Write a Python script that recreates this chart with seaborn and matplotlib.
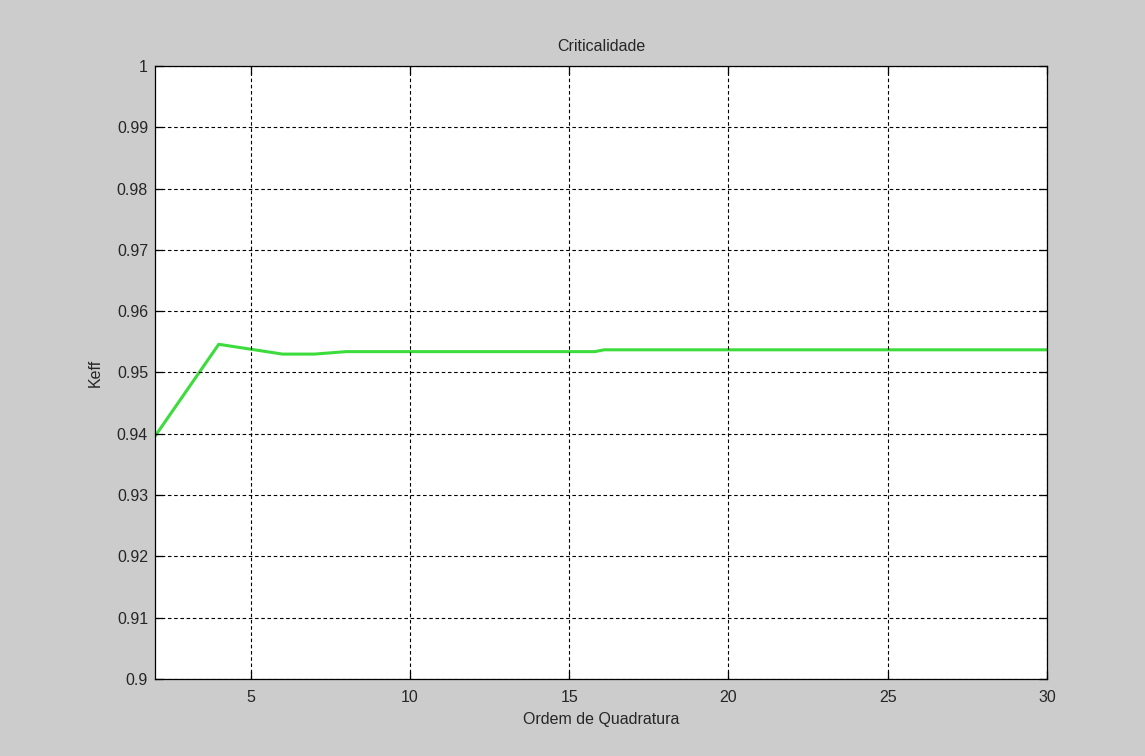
import matplotlib
matplotlib.use("Agg")
import matplotlib.pyplot as plt
import seaborn as sns
import pandas as pd

# Data
ordem = [2, 4, 6, 7, 8, 15.8, 16.1, 30]
keff = [0.9396, 0.9546, 0.9530, 0.9530, 0.9534, 0.9534, 0.9537, 0.9537]
xticks = [5, 10, 15, 20, 25, 30]
yticks = [0.90, 0.91, 0.92, 0.93, 0.94, 0.95, 0.96, 0.97, 0.98, 0.99, 1.00]
ytick_labels = ["0.9", "0.91", "0.92", "0.93", "0.94", "0.95", "0.96", "0.97", "0.98", "0.99", "1"]

sns.set_style("ticks")
plt.rcParams['font.family'] = ['Liberation Sans', 'DejaVu Sans']

txt = "#262626"
fig = plt.figure(figsize=(11.45, 7.56), dpi=100, facecolor="#cccccc")
ax = fig.add_axes([0.1354, 0.1019, 0.9144 - 0.1354, 0.9127 - 0.1019])
ax.set_facecolor("white")

df = pd.DataFrame({"Ordem de Quadratura": ordem, "Keff": keff})
sns.lineplot(data=df, x="Ordem de Quadratura", y="Keff", ax=ax,
             color="#3cdc3c", linewidth=2.2, sort=False)

ax.set_xlim(2, 30)
ax.set_ylim(0.9, 1.0)
ax.set_xticks(xticks)
ax.set_xticklabels([str(t) for t in xticks])
ax.set_yticks(yticks)
ax.set_yticklabels(ytick_labels)

ax.grid(True, color="black", linestyle=(0, (3.2, 2.4)), linewidth=0.8)
ax.set_axisbelow(False)
for side in ["top", "right", "left", "bottom"]:
    ax.spines[side].set_visible(True)
    ax.spines[side].set_color("black")
    ax.spines[side].set_linewidth(0.9)

ax.tick_params(direction="in", length=6, width=0.9, top=True, right=True,
               labelsize=11.5, colors="black", labelcolor=txt)
ax.tick_params(axis="y", pad=5)
ax.tick_params(axis="x", pad=8)

ax.set_title("Criticalidade", fontsize=11.5, pad=11, color=txt)
ax.set_xlabel("Ordem de Quadratura", fontsize=11.5, labelpad=5, color=txt)
ax.set_ylabel("Keff", fontsize=11.5, labelpad=10, color=txt)

fig.savefig("out.png", dpi=100, facecolor=fig.get_facecolor())
